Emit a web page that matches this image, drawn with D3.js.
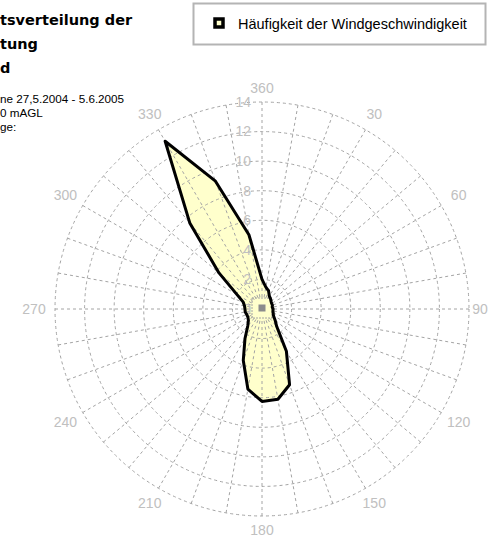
<!DOCTYPE html>
<html>
<head>
<meta charset="utf-8">
<script src="https://cdn.jsdelivr.net/npm/d3@7/dist/d3.min.js"></script>
<style>
	body { margin: 0; background: #ffffff; }
	svg { display: block; }
</style>
</head>
<body>
<div id="chart"></div>
<script>

// wind direction (deg) and frequency
const directions = [0, 10, 20, 30, 40, 50, 60, 70, 80, 90, 100, 110,
	120, 130, 140, 150, 160, 170, 180, 190, 200, 210, 220, 230,
	240, 250, 260, 270, 280, 290, 300, 310, 320, 330, 340, 350];
const frequency = [2.0, 1.5, 1.3, 1.0, 0.9, 0.8, 0.75, 0.75, 0.7, 0.75, 0.75, 0.8,
	0.9, 1.15, 1.55, 3.3, 5.45, 6.2, 6.25, 5.5, 3.7, 2.3, 1.5, 1.2,
	1.1, 1.1, 1.15, 1.15, 1.2, 1.35, 1.95, 3.8, 7.6, 13.1, 9.2, 5.1];

const ringTicks = [0, 2, 4, 6, 8, 10, 12, 14];
const spokeDegrees = d3.range(0, 360, 10);
const angleLabelDegrees = [0, 30, 60, 90, 120, 150, 180, 210, 240, 270, 300, 330];
const angleLabels = ['360', '30', '60', '90', '120', '150', '180', '210', '240', '270', '300', '330'];

const titleLines = ['tsverteilung der', 'tung', 'd'];
const infoLines = ['ne  27,5.2004 - 5.6.2005', '0 mAGL', 'ge:'];
const legendLabel = 'Häufigkeit der Windgeschwindigkeit';

const width = 490;
const height = 537;
const cx = 262;
const cy = 309;
const R = 207;

const theme = {
	grid: '#a4a4a4',
	gridText: '#c0c0c0',
	fill: '#ffffcc',
	stroke: '#000000',
	legendBorder: '#b4b4b4',
};

const svg = d3.select('#chart')
	.append('svg')
	.attr('width', width)
	.attr('height', height);

const rScale = d3.scaleLinear().domain([0, 14]).range([0, R]);
const aScale = d3.scaleLinear().domain([0, 360]).range([0, 2 * Math.PI]);

const data = directions.map((d, i) => ({dir: d, value: frequency[i]}));

const plot = svg.append('g').attr('transform', `translate(${cx},${cy})`);

const radial = d3.lineRadial()
	.angle(d => aScale(d.dir))
	.radius(d => rScale(d.value))
	.curve(d3.curveLinearClosed);

// fill first so the grid shows through
plot.append('path')
	.datum(data)
	.attr('d', radial)
	.attr('fill', theme.fill)
	.attr('stroke', 'none');

// rings
plot.selectAll('.ring')
	.data(ringTicks.filter(d => d > 0))
	.enter()
	.append('circle')
	.attr('class', 'ring')
	.attr('r', d => rScale(d))
	.attr('fill', 'none')
	.attr('stroke', theme.grid)
	.attr('stroke-width', 1)
	.attr('stroke-dasharray', '3,3');

// spokes
plot.selectAll('.spoke')
	.data(spokeDegrees)
	.enter()
	.append('line')
	.attr('class', 'spoke')
	.attr('x1', d => 12 * Math.sin(aScale(d)))
	.attr('y1', d => -12 * Math.cos(aScale(d)))
	.attr('x2', d => R * Math.sin(aScale(d)))
	.attr('y2', d => -R * Math.cos(aScale(d)))
	.attr('stroke', theme.grid)
	.attr('stroke-width', 1)
	.attr('stroke-dasharray', '3,3');

// little box in the middle
plot.append('rect')
	.attr('x', -10).attr('y', -11)
	.attr('width', 20).attr('height', 20)
	.attr('fill', 'none')
	.attr('stroke', theme.grid)
	.attr('stroke-dasharray', '2,1');
plot.append('rect')
	.attr('x', -3.5).attr('y', -4.5)
	.attr('width', 7).attr('height', 7)
	.attr('fill', '#8c8c8c');

// radial tick labels along the north spoke
plot.selectAll('.rtick')
	.data(ringTicks)
	.enter()
	.append('text')
	.attr('class', 'rtick')
	.attr('x', -11)
	.attr('y', d => -rScale(d))
	.attr('dy', '0.35em')
	.attr('text-anchor', 'end')
	.attr('font-family', 'Liberation Sans, Arial, sans-serif')
	.attr('font-size', 14)
	.attr('fill', theme.gridText)
	.text(d => d);

// series outline
plot.append('path')
	.datum(data)
	.attr('d', radial)
	.attr('fill', 'none')
	.attr('stroke', theme.stroke)
	.attr('stroke-width', 3)
	.attr('stroke-linejoin', 'round');

// compass labels
plot.selectAll('.alabel')
	.data(angleLabelDegrees)
	.enter()
	.append('text')
	.attr('class', 'alabel')
	.attr('x', d => {
		const s = Math.sin(aScale(d));
		const x = (221 + 7 * Math.abs(s)) * s;
		return Math.min(x, width - cx - 10);
	})
	.attr('y', d => {
		const s = Math.sin(aScale(d));
		return -(221 + 7 * Math.abs(s)) * Math.cos(aScale(d));
	})
	.attr('dy', '0.35em')
	.attr('text-anchor', 'middle')
	.attr('font-family', 'Liberation Sans, Arial, sans-serif')
	.attr('font-size', 14)
	.attr('fill', theme.gridText)
	.text((d, i) => angleLabels[i]);

// title (cut off at the left edge in the original)
svg.selectAll('.title')
	.data(titleLines)
	.enter()
	.append('text')
	.attr('class', 'title')
	.attr('x', 0)
	.attr('y', (d, i) => 25 + i * 24)
	.attr('font-family', 'DejaVu Sans, Verdana, sans-serif')
	.attr('font-weight', 'bold')
	.attr('font-size', 14.5)
	.attr('fill', '#000')
	.text(d => d);

svg.selectAll('.info')
	.data(infoLines)
	.enter()
	.append('text')
	.attr('class', 'info')
	.attr('x', 0)
	.attr('y', (d, i) => 103 + i * 14)
	.attr('font-family', 'Liberation Sans, Arial, sans-serif')
	.attr('font-size', 11.7)
	.attr('fill', '#000')
	.text(d => d);

// legend
const legend = svg.append('g');
legend.append('rect')
	.attr('x', 193.5).attr('y', 3.5)
	.attr('width', 292).attr('height', 41)
	.attr('fill', '#fff')
	.attr('stroke', theme.legendBorder)
	.attr('stroke-width', 2);
legend.append('rect')
	.attr('x', 215).attr('y', 19)
	.attr('width', 8).attr('height', 8)
	.attr('fill', theme.fill)
	.attr('stroke', '#000')
	.attr('stroke-width', 3.5);
legend.append('text')
	.attr('x', 238).attr('y', 29)
	.attr('font-family', 'Liberation Sans, Arial, sans-serif')
	.attr('font-size', 14.5)
	.attr('fill', '#000')
	.text(legendLabel);

</script>
</body>
</html>
